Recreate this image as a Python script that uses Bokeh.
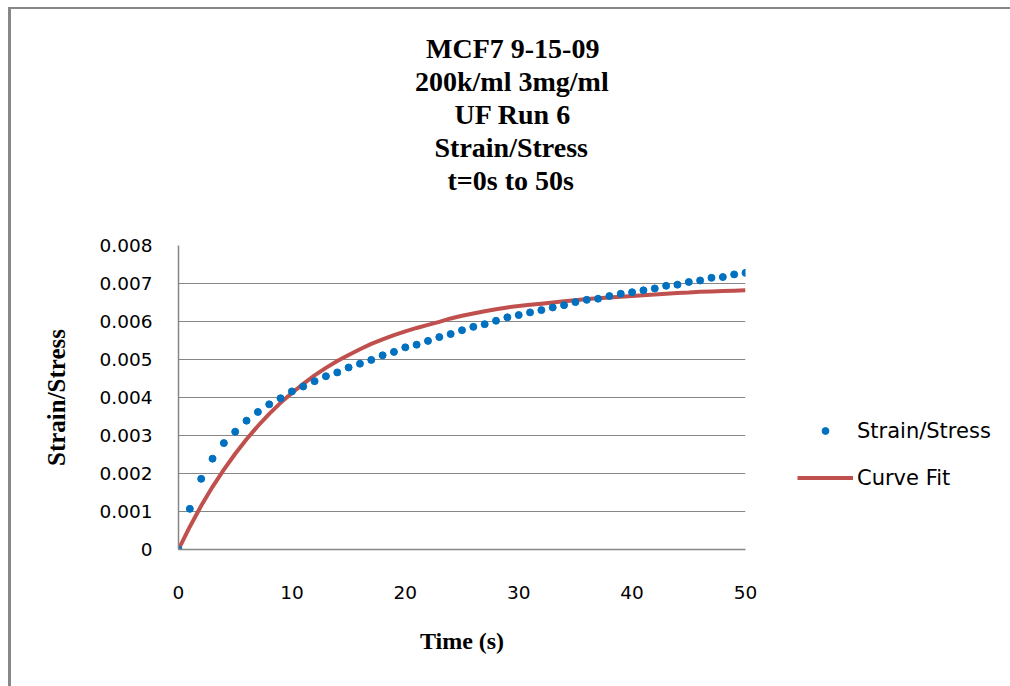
from bokeh.plotting import figure
from bokeh.models import Title, Legend, LegendItem, FixedTicker, Range1d
from bokeh.embed import file_html
from bokeh.resources import INLINE

# ---- data ----
time_s = [0, 1, 2, 3, 4, 5, 6, 7, 8, 9, 10, 11, 12, 13, 14, 15, 16, 17, 18, 19, 20,
          21, 22, 23, 24, 25, 26, 27, 28, 29, 30, 31, 32, 33, 34, 35, 36, 37, 38, 39, 40,
          41, 42, 43, 44, 45, 46, 47, 48, 49, 50]
strain_stress = [0.0, 0.00107, 0.00186, 0.00239, 0.00280, 0.00310, 0.00339, 0.00362, 0.00382,
                 0.00398, 0.00416, 0.00429, 0.00443, 0.00456, 0.00466, 0.00479, 0.00489, 0.00499,
                 0.00511, 0.00520, 0.00532, 0.00539, 0.00549, 0.00559, 0.00567, 0.00577, 0.00586,
                 0.00593, 0.00602, 0.00611, 0.00617, 0.00624, 0.00630, 0.00637, 0.00643, 0.00651,
                 0.00657, 0.00660, 0.00667, 0.00673, 0.00677, 0.00682, 0.00687, 0.00694, 0.00697,
                 0.00704, 0.00708, 0.00715, 0.00717, 0.00724, 0.00728]
curve_fit = [0.0, 0.00060, 0.00115, 0.00165, 0.00210, 0.00252, 0.00290, 0.00325, 0.00357,
             0.00386, 0.00412, 0.00436, 0.00458, 0.00478, 0.00496, 0.00512, 0.00527, 0.00541,
             0.00553, 0.00564, 0.00574, 0.00583, 0.00591, 0.00599, 0.00608, 0.00615, 0.00621,
             0.00627, 0.00632, 0.00637, 0.00641, 0.00644, 0.00647, 0.00650, 0.00653, 0.00656,
             0.00659, 0.00661, 0.00663, 0.00665, 0.00667, 0.00669, 0.00671, 0.00673, 0.00675,
             0.00676, 0.00678, 0.00679, 0.00680, 0.00681, 0.00682]

x_tick_values = [0, 10, 20, 30, 40, 50]
y_tick_values = [0, 0.001, 0.002, 0.003, 0.004, 0.005, 0.006, 0.007, 0.008]
y_tick_labels = ["0", "0.001", "0.002", "0.003", "0.004", "0.005", "0.006", "0.007", "0.008"]

title_lines = ["MCF7 9-15-09", "200k/ml 3mg/ml", "UF Run 6", "Strain/Stress", "t=0s to 50s"]
x_label = "Time (s)"
y_label = "Strain/Stress"
series_names = ["Strain/Stress", "Curve Fit"]

GRAY = "#868686"
SERIF = "Liberation Serif"
SANS = "DejaVu Sans"

p = figure(output_backend="svg", toolbar_location=None,
           frame_width=567, frame_height=304,
           min_border_left=167, min_border_right=265,
           min_border_top=236, min_border_bottom=137,
           x_range=Range1d(0, 50), y_range=Range1d(0, 0.008))
p.margin = (7, 0, 0, 8)
p.styles = {"border-left": "3px solid #878787", "border-top": "2px solid #878787"}
p.background_fill_color = "white"
p.border_fill_color = "white"
p.outline_line_color = None

# ---- title: five stacked lines, centred at x ~ 511 px on the page ----
TITLE_SIZE = 28
# approximate rendered widths (px) of each line at this size, used to centre with align="left"
title_widths = [171, 193, 114, 154, 128]
TITLE_CENTER_FROM_FRAME = 333


def title_kw(i):
    return dict(align="left", offset=TITLE_CENTER_FROM_FRAME - title_widths[i] / 2,
                text_font=SERIF, text_font_style="bold",
                text_font_size=f"{TITLE_SIZE}px", text_color="black", standoff=0)


# spacer closest to the frame
p.add_layout(Title(text=" ", text_font_size="1px", standoff=47), "above")
for i in range(len(title_lines) - 1, 0, -1):
    p.add_layout(Title(text=title_lines[i], **title_kw(i)), "above")
p.title.text = title_lines[0]
for k, v in title_kw(0).items():
    setattr(p.title, k, v)

fit = p.line(time_s, curve_fit, line_color="#C0504D", line_width=4)
dots = p.scatter(time_s, strain_stress, size=7, fill_color="#0070C0", line_color="#0070C0")

# axes
for ax in (p.xaxis[0], p.yaxis[0]):
    ax.axis_line_color = GRAY
    ax.axis_line_width = 1.5
    ax.major_tick_line_color = None
    ax.minor_tick_line_color = None
    ax.major_label_text_font = SANS
    ax.major_label_text_font_size = "18.5px"
    ax.major_label_text_color = "black"
    ax.axis_label_text_font = SERIF
    ax.axis_label_text_font_style = "bold"
    ax.axis_label_text_color = "black"

p.xaxis.ticker = FixedTicker(ticks=x_tick_values)
p.xaxis.major_label_standoff = 30
p.xaxis.axis_label = x_label
p.xaxis.axis_label_text_font_size = "24px"
p.xaxis.axis_label_standoff = 26

p.yaxis.ticker = FixedTicker(ticks=y_tick_values)
p.yaxis.major_label_overrides = dict(zip(y_tick_values, y_tick_labels))
p.yaxis.major_label_standoff = 20
p.yaxis.axis_label = y_label
p.yaxis.axis_label_text_font_size = "25px"
p.yaxis.axis_label_standoff = 27

p.xgrid.visible = False
p.ygrid.ticker = FixedTicker(ticks=y_tick_values)
p.ygrid.grid_line_color = GRAY
p.ygrid.grid_line_width = 1.2

legend = Legend(items=[LegendItem(label=series_names[0], renderers=[dots]),
                       LegendItem(label=series_names[1], renderers=[fit])],
                location=(52, 48))
legend.border_line_color = None
legend.background_fill_alpha = 0
legend.padding = 0
legend.margin = 0
legend.spacing = 0
legend.glyph_width = 56
legend.glyph_height = 17
legend.label_height = 47
legend.label_standoff = 4
legend.label_text_font = SANS
legend.label_text_font_size = "21px"
legend.label_text_color = "black"
p.add_layout(legend, "right")

open("out.html", "w").write(file_html(p, INLINE))
